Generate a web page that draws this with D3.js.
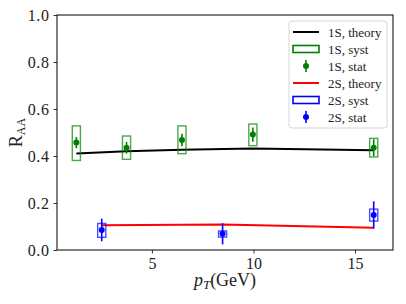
<!DOCTYPE html>
<html>
<head>
<meta charset="utf-8">
<script src="https://cdn.jsdelivr.net/npm/d3@7"></script>
<style>
  body { margin: 0; background: #fff; }
  svg text { font-family: "Liberation Serif", "DejaVu Serif", serif; }
</style>
</head>
<body>
<div id="chart"></div>
<script>
// 1S data
const x1S = [1.28, 3.75, 6.48, 9.97, 15.92];
const y1S = [0.457, 0.435, 0.468, 0.491, 0.435];
const stat1S = [0.024, 0.025, 0.027, 0.03, 0.036];
const systLo1S = [0.381, 0.386, 0.41, 0.444, 0.396];
const systHi1S = [0.528, 0.485, 0.528, 0.536, 0.475];
const theory1S = [0.411, 0.42, 0.427, 0.432, 0.424];

// 2S data
const x2S = [2.53, 8.48, 15.92];
const y2S = [0.085, 0.069, 0.149];
const stat2S = [0.048, 0.045, 0.058];
const systLo2S = [0.054, 0.055, 0.123];
const systHi2S = [0.113, 0.081, 0.174];
const theory2S = [0.105, 0.109, 0.095];

const xTicks = [5, 10, 15];
const yTicks = [0, 0.2, 0.4, 0.6, 0.8, 1.0];
const legendLabels = ['1S, theory', '1S, syst', '1S, stat', '2S, theory', '2S, syst', '2S, stat'];

const margin = {top: 15, right: 13, bottom: 54, left: 57};
const width = 406 - margin.left - margin.right;
const height = 304 - margin.top - margin.bottom;
const boxHalf = 0.2;

const svg = d3.select('#chart').append('svg')
  .attr('width', 406)
  .attr('height', 304);
const g = svg.append('g')
  .attr('transform', 'translate(' + margin.left + ',' + margin.top + ')');

const x = d3.scaleLinear().domain([0.327, 16.87]).range([0, width]);
const y = d3.scaleLinear().domain([0, 1]).range([height, 0]);

// axes
const xAxis = d3.axisBottom(x).tickValues(xTicks).tickSize(3.5).tickPadding(4).tickFormat(d3.format('d'));
const yAxis = d3.axisLeft(y).tickValues(yTicks).tickSize(3.5).tickPadding(4).tickFormat(d3.format('.1f'));

g.append('g').attr('transform', 'translate(0,' + height + ')').call(xAxis)
  .call(a => a.select('.domain').remove())
  .selectAll('text').style('font-size', '16px').attr('fill', '#222');
g.append('g').call(yAxis)
  .call(a => a.select('.domain').remove())
  .selectAll('text').style('font-size', '16px').style('letter-spacing', '0.6px').attr('fill', '#222');
g.selectAll('.tick line').attr('stroke', '#000').attr('stroke-width', 0.8);

g.append('rect')
  .attr('width', width).attr('height', height)
  .attr('fill', 'none').attr('stroke', '#000').attr('stroke-width', 1);

// theory lines
const line = d3.line().x(d => x(d[0])).y(d => y(d[1]));
g.append('path').datum(d3.zip(x1S, theory1S)).attr('d', line)
  .attr('fill', 'none').attr('stroke', '#000').attr('stroke-width', 2);
g.append('path').datum(d3.zip(x2S, theory2S)).attr('d', line)
  .attr('fill', 'none').attr('stroke', '#ff0000').attr('stroke-width', 2);

function drawSeries(xs, ys, stat, lo, hi, color) {
  const data = xs.map((d, i) => ({x: d, y: ys[i], e: stat[i], lo: lo[i], hi: hi[i]}));
  g.append('g').selectAll('rect').data(data).enter().append('rect')
    .attr('x', d => x(d.x - boxHalf))
    .attr('width', d => x(d.x + boxHalf) - x(d.x - boxHalf))
    .attr('y', d => y(d.hi))
    .attr('height', d => y(d.lo) - y(d.hi))
    .attr('fill', 'none').attr('stroke', color).attr('stroke-opacity', 0.7).attr('stroke-width', 1.4);
  g.append('g').selectAll('line').data(data).enter().append('line')
    .attr('x1', d => x(d.x)).attr('x2', d => x(d.x))
    .attr('y1', d => y(d.y - d.e)).attr('y2', d => y(d.y + d.e))
    .attr('stroke', color).attr('stroke-width', 1.6);
  g.append('g').selectAll('circle').data(data).enter().append('circle')
    .attr('cx', d => x(d.x)).attr('cy', d => y(d.y)).attr('r', 3)
    .attr('fill', color);
}
drawSeries(x1S, y1S, stat1S, systLo1S, systHi1S, '#008000');
drawSeries(x2S, y2S, stat2S, systLo2S, systHi2S, '#0000ff');

// axis labels
const yl = svg.append('text')
  .attr('transform', 'translate(22,' + (margin.top + height / 2) + ') rotate(-90)')
  .attr('text-anchor', 'middle').attr('fill', '#222').style('font-size', '18px');
yl.append('tspan').text('R');
yl.append('tspan').attr('dy', 3).style('font-size', '12px').text('AA');

const xl = svg.append('text')
  .attr('x', margin.left + width / 2).attr('y', 286)
  .attr('text-anchor', 'middle').attr('fill', '#222').style('font-size', '18px');
xl.append('tspan').style('font-style', 'italic').text('p');
xl.append('tspan').attr('dy', 3).style('font-size', '13px').style('font-style', 'italic').text('T');
xl.append('tspan').attr('dy', -3).text('(GeV)');

// legend
const lg = svg.append('g').attr('transform', 'translate(289,21)');
lg.append('rect').attr('width', 98).attr('height', 107).attr('rx', 3)
  .attr('fill', '#fff').attr('fill-opacity', 0.8).attr('stroke', '#d6d6d6');
const colors = ['#000', '#008000', '#008000', '#ff0000', '#0000ff', '#0000ff'];
const kinds = ['line', 'box', 'stat', 'line', 'box', 'stat'];
legendLabels.forEach((lab, i) => {
  const cy = 11 + i * 17;
  const item = lg.append('g').attr('transform', 'translate(0,' + cy + ')');
  if (kinds[i] === 'line') {
    item.append('line').attr('x1', 4).attr('x2', 30).attr('stroke', colors[i]).attr('stroke-width', 2);
  } else if (kinds[i] === 'box') {
    item.append('rect').attr('x', 4).attr('y', -3.5).attr('width', 26).attr('height', 7)
      .attr('fill', 'none').attr('stroke', colors[i]).attr('stroke-width', 1.6);
  } else {
    item.append('line').attr('x1', 17).attr('x2', 17).attr('y1', -6).attr('y2', 6)
      .attr('stroke', colors[i]).attr('stroke-width', 1.6);
    item.append('circle').attr('cx', 17).attr('r', 3).attr('fill', colors[i]);
  }
  item.append('text').attr('x', 39).attr('dy', '0.35em').attr('fill', '#222')
    .style('font-size', '13px').text(lab);
});
</script>
</body>
</html>
